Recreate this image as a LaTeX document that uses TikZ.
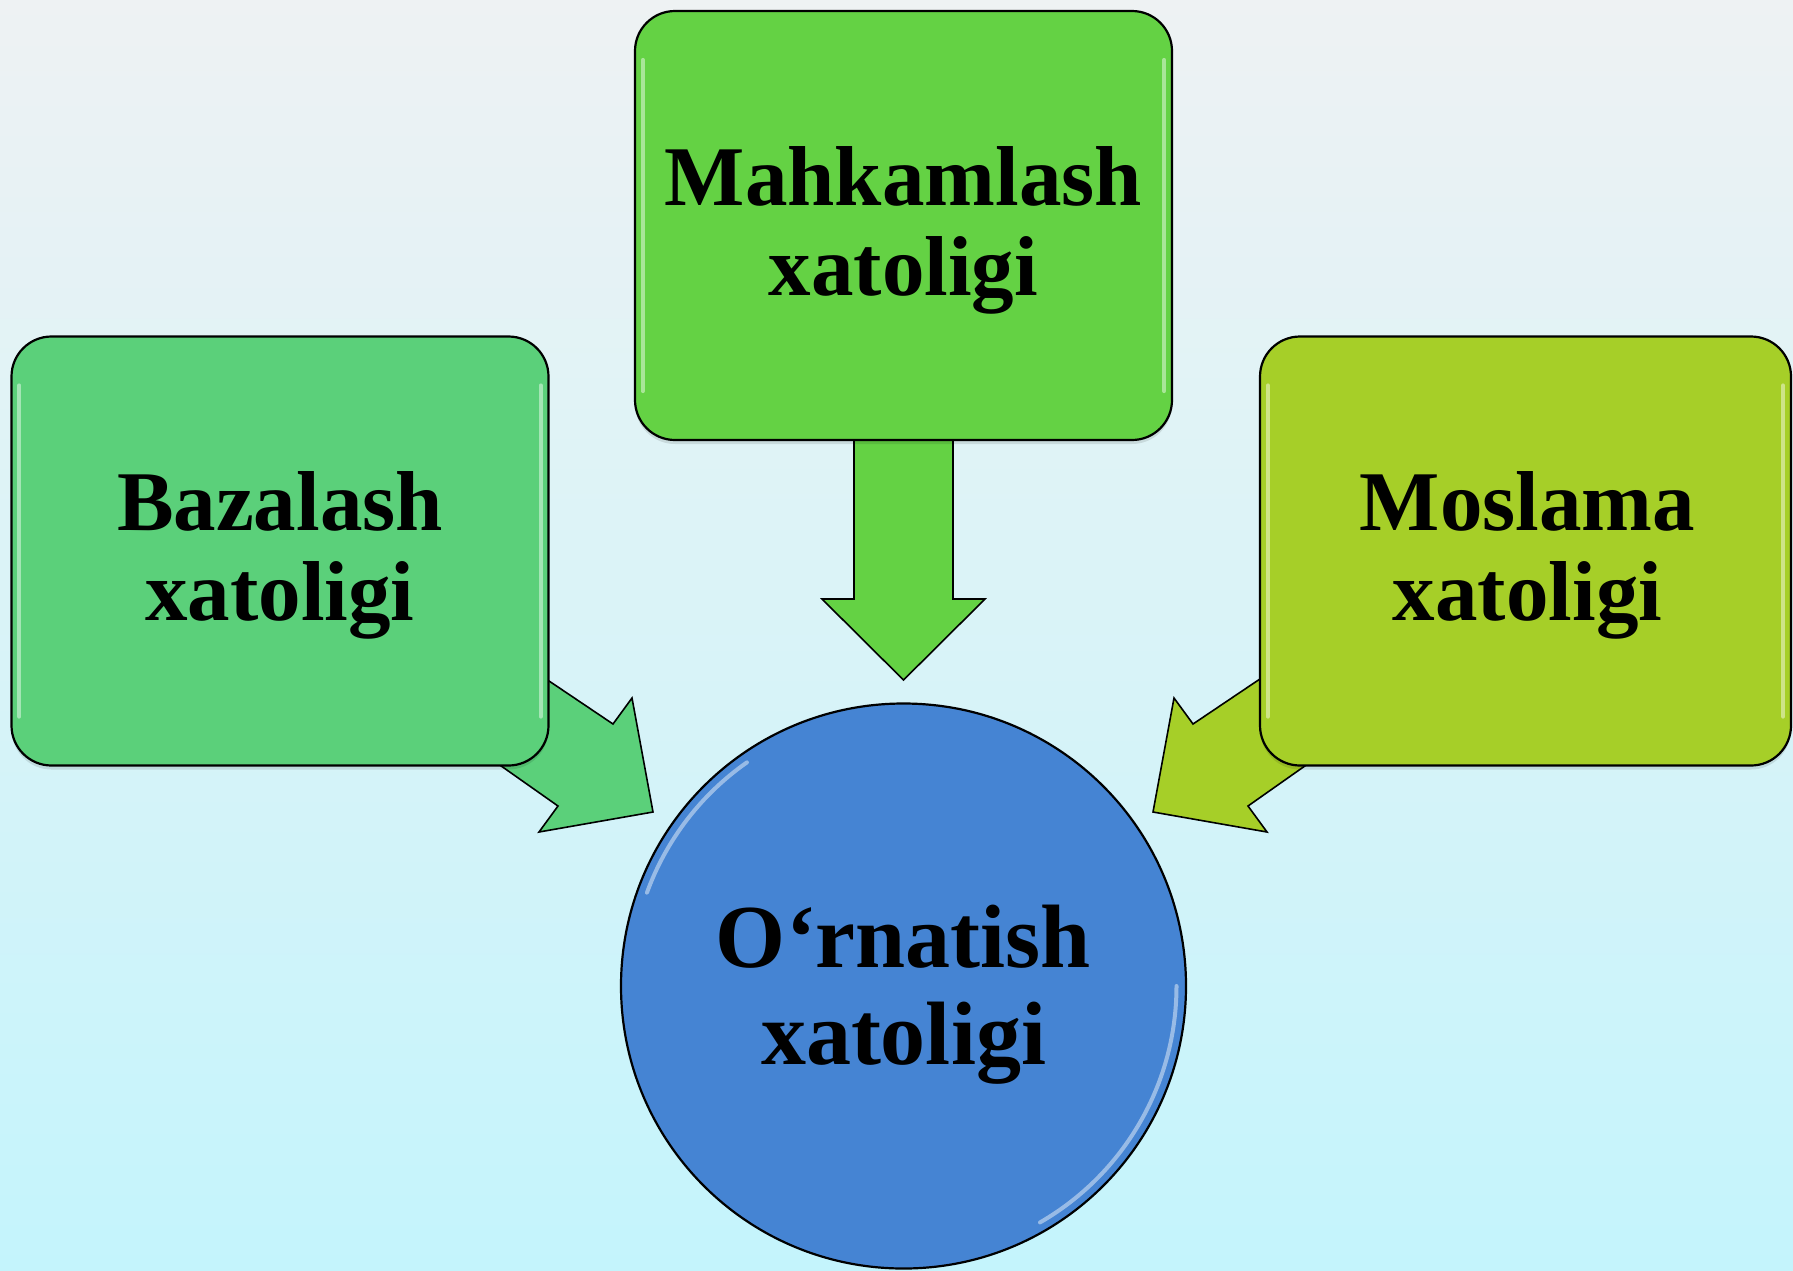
\documentclass[tikz,border=0pt]{standalone}
\usepackage{fontspec}
\setmainfont{Liberation Serif}
\usetikzlibrary{calc}
\definecolor{bgtop}{HTML}{EEF2F3}
\definecolor{bgmid}{HTML}{D9F7F8}
\definecolor{bgbot}{HTML}{C4F4FC}
\definecolor{cleft}{HTML}{5BD07A}
\definecolor{ctop}{HTML}{64D244}
\definecolor{cright}{HTML}{A6CF28}
\definecolor{ccirc}{HTML}{4584D3}
\newcommand\glossbox[1]{%
  \draw[hl] ($(#1.north west)+(9,50)$) -- ($(#1.south west)+(9,-50)$);
  \draw[hl] ($(#1.north east)+(-9,50)$) -- ($(#1.south east)+(-9,-50)$);
}
\begin{document}
\begin{tikzpicture}[x=1pt,y=-1pt,
  box/.style={rectangle, rounded corners=40pt, minimum width=537pt, minimum height=429pt,
    draw=black, line width=2.2pt, inner sep=0pt},
  boxtext/.style={align=center, text=black, inner sep=0pt,
    font=\fontsize{85}{90}\selectfont\bfseries},
  shadowbox/.style={rectangle, rounded corners=40pt, minimum width=537pt, minimum height=429pt,
    fill=black, opacity=0.10, inner sep=0pt},
  blockarrow/.style={draw=black, line width=1.6pt, line join=miter},
  hl/.style={draw=white, opacity=0.45, line width=4pt, line cap=round},
  roundnode/.style={circle, minimum size=565pt, draw=black, line width=2.2pt, inner sep=0pt},
  roundtext/.style={align=center, text=black, inner sep=0pt,
    font=\fontsize{90}{97}\selectfont\bfseries}]
\shade[top color=bgtop, middle color=bgmid, bottom color=bgbot] (0,0) rectangle (1793,1270);
\useasboundingbox (0,0) rectangle (1793,1270);

% block arrows (under the boxes)
\filldraw[blockarrow, fill=cleft] (500,648) -- (613,724) -- (632,698) -- (653,812)
  -- (539,832) -- (558,806) -- (460,737) -- cycle;
\filldraw[blockarrow, fill=ctop] (854,400) -- (854,599) -- (822,599) -- (903.5,680)
  -- (985,599) -- (953,599) -- (953,400) -- cycle;
\filldraw[blockarrow, fill=cright] (1306,648) -- (1193,724) -- (1174,698) -- (1153,812)
  -- (1267,832) -- (1248,806) -- (1346,737) -- cycle;

% shadows
\node[shadowbox] at (280,555) {};
\node[shadowbox] at (903.5,229.5) {};
\node[shadowbox, minimum width=531pt] at (1525.5,555) {};

% boxes
\node[box, fill=cleft] (baz) at (280,551) {};
\node[box, fill=ctop] (mah) at (903.5,225.5) {};
\node[box, fill=cright, minimum width=531pt] (mos) at (1525.5,551) {};
\glossbox{baz}
\glossbox{mah}
\glossbox{mos}
\node[boxtext] (bazt) at ($(baz.center)+(0,4)$) {Bazalash\\xatoligi};
\node[boxtext] (maht) at ($(mah.center)+(0,5)$) {Mahkamlash\\xatoligi};
\node[boxtext] (most) at ($(mos.center)+(2,4)$) {Moslama\\xatoligi};

% circle
\node[roundnode, fill=ccirc] (orn) at (903.5,986) {};
\draw[hl] ($(orn.center)+(200:273)$) arc[start angle=200, end angle=235, radius=273];
\draw[hl] ($(orn.center)+(0:273)$) arc[start angle=0, end angle=60, radius=273];
\node[roundtext] (ornt) at ($(orn.center)+(0,9)$) {O‘rnatish\\xatoligi};
\end{tikzpicture}
\end{document}
